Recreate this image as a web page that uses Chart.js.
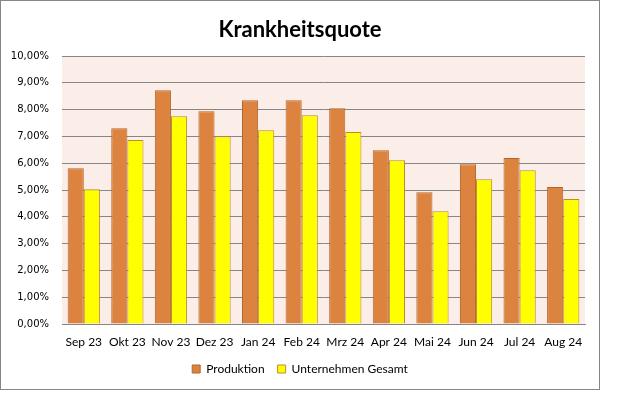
<!DOCTYPE html>
<html>
<head>
<meta charset="utf-8">
<script src="https://cdn.jsdelivr.net/npm/chart.js@4.4.1/dist/chart.umd.min.js"></script>
<style>
  html, body { margin: 0; padding: 0; background: #ffffff; }
  #frame { position: absolute; left: 0; top: 0; width: 598px; height: 388px; border: 1px solid #868686; background: #fff; }
  canvas { display: block; }
</style>
</head>
<body>
<div id="frame"><canvas id="c" width="598" height="388"></canvas></div>
<script>
const categories = ["Sep 23", "Okt 23", "Nov 23", "Dez 23", "Jan 24", "Feb 24", "Mrz 24", "Apr 24", "Mai 24", "Jun 24", "Jul 24", "Aug 24"];
const produktion = [5.81, 7.30, 8.72, 7.94, 8.35, 8.35, 8.05, 6.48, 4.92, 5.96, 6.19, 5.11];
const unternehmenGesamt = [5.03, 6.87, 7.75, 7.01, 7.23, 7.79, 7.16, 6.11, 4.21, 5.40, 5.74, 4.66];
const seriesNames = ["Produktion", "Unternehmen Gesamt"];
const chartTitle = "Krankheitsquote";
const yMin = 0, yMax = 10, yStep = 1;

const plotBg = {
  id: 'plotBg',
  beforeDraw(chart) {
    const a = chart.chartArea, ctx = chart.ctx;
    ctx.save();
    ctx.fillStyle = '#FBEDE8';
    ctx.fillRect(a.left, a.top, a.right - a.left, a.bottom - a.top);
    ctx.restore();
  }
};

new Chart(document.getElementById('c'), {
  type: 'bar',
  data: {
    labels: categories,
    datasets: [
      { label: seriesNames[0], data: produktion, backgroundColor: '#DC843F', borderColor: '#B5652B', borderWidth: 1 },
      { label: seriesNames[1], data: unternehmenGesamt, backgroundColor: '#FFFF00', borderColor: '#BF8A2A', borderWidth: 1 }
    ]
  },
  options: {
    responsive: false,
    animation: false,
    devicePixelRatio: 1,
    layout: { padding: { left: 0, right: 0, top: 0, bottom: 4 } },
    datasets: { bar: { categoryPercentage: 0.74, barPercentage: 1.0 } },
    plugins: {
      title: {
        display: true, text: chartTitle, color: '#000',
        font: { family: 'Lato', size: 22, weight: 'bold' },
        padding: { top: 16, bottom: 12.6 }
      },
      legend: {
        display: true, position: 'bottom',
        labels: {
          boxWidth: 8, boxHeight: 8, padding: 13, color: '#000',
          font: { family: 'Lato', size: 12 }
        }
      },
      tooltip: { enabled: false }
    },
    scales: {
      x: {
        afterFit(scale) { scale.height = 26; },
        grid: { display: false, drawTicks: false },
        border: { display: true, color: '#868686' },
        ticks: { color: '#000', font: { family: 'Lato', size: 12 }, padding: 11, maxRotation: 0, autoSkip: false }
      },
      y: {
        min: yMin, max: yMax,
        afterFit(scale) { scale.width = 61; },
        grid: { color: '#868686', drawTicks: false },
        border: { display: false },
        ticks: {
          stepSize: yStep, color: '#000', padding: 13,
          font: { family: 'DejaVu Sans', size: 10 },
          callback: v => v.toFixed(2).replace('.', ',') + '%'
        }
      },
      spacer: {
        type: 'linear', position: 'right', display: true,
        min: yMin, max: yMax,
        afterFit(scale) { scale.width = 14; },
        grid: { display: false, drawTicks: false },
        border: { display: false },
        ticks: { display: false }
      }
    }
  },
  plugins: [plotBg]
});
</script>
</body>
</html>
